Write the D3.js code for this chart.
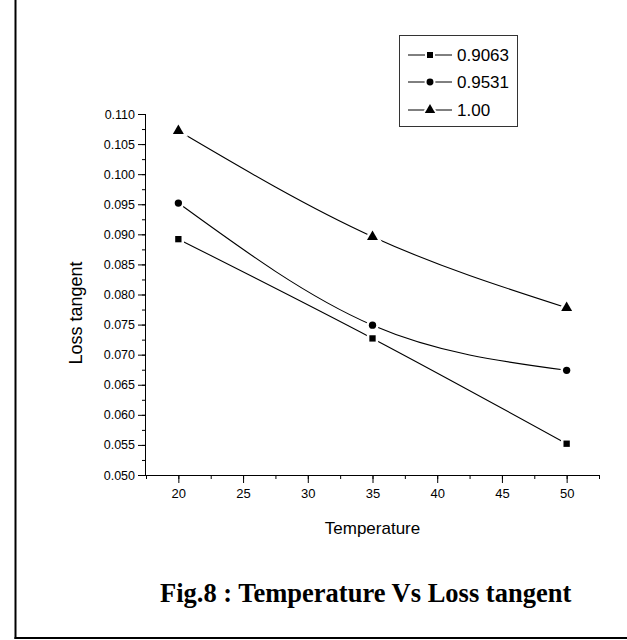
<!DOCTYPE html>
<html><head><meta charset="utf-8">
<script src="https://cdn.jsdelivr.net/npm/d3@7"></script>
<style>body{margin:0;background:#fff}svg{display:block}</style>
</head><body>
<svg id="c" width="627" height="640"></svg>
<script>
const temperatures = [20, 35, 50];
const seriesNames = ["0.9063", "0.9531", "1.00"];
const series_09063 = [0.0892, 0.0727, 0.0552];
const series_09531 = [0.0952, 0.0749, 0.0674];
const series_100 = [0.1072, 0.0896, 0.0778];
const xTicks = [20, 25, 30, 35, 40, 45, 50];
const yTicks = [0.050,0.055,0.060,0.065,0.070,0.075,0.080,0.085,0.090,0.095,0.100,0.105,0.110];

const allSeries = [series_09063, series_09531, series_100];
const symbols = [d3.symbolSquare, d3.symbolCircle, d3.symbolTriangle];
const symSizes = [40, 42, 52];

const svg = d3.select("#c");
const x = d3.scaleLinear().domain([17.5, 52.5]).range([146, 599]);
const y = d3.scaleLinear().domain([0.050, 0.110]).range([475, 114]);

// frame
svg.append("line").attr("x1",15.5).attr("x2",15.5).attr("y1",0).attr("y2",639).attr("stroke","#000").attr("stroke-width",2);
svg.append("line").attr("x1",14.5).attr("x2",627).attr("y1",638).attr("y2",638).attr("stroke","#000").attr("stroke-width",2);

const font = "Liberation Sans, Arial, sans-serif";

// x axis
const gx = svg.append("g").attr("transform","translate(0,475)");
gx.call(d3.axisBottom(x).tickValues(d3.range(17.5, 52.6, 2.5)).tickSize(4).tickFormat(""));
gx.call(g=>g.select(".domain").remove());
const gx2 = svg.append("g").attr("transform","translate(0,475)");
gx2.call(d3.axisBottom(x).tickValues(xTicks).tickSize(8).tickPadding(6).tickFormat(d3.format("d")));
gx2.selectAll("text").attr("font-family",font).attr("font-size",13).attr("fill","#000");
gx2.select(".domain").attr("d",`M${x(17.5)},0.5H${x(52.5)}`);

// y axis
const gy = svg.append("g").attr("transform","translate(146,0)");
gy.call(d3.axisLeft(y).tickValues(d3.range(0.050, 0.1101, 0.0025)).tickSize(4).tickFormat(""));
gy.call(g=>g.select(".domain").remove());
const gy2 = svg.append("g").attr("transform","translate(146,0)");
gy2.call(d3.axisLeft(y).tickValues(yTicks).tickSize(8).tickPadding(3).tickFormat(d3.format(".3f")));
gy2.selectAll("text").attr("font-family",font).attr("font-size",12.5).attr("fill","#000");
gy2.select(".domain").attr("d",`M-0.5,${y(0.110)}V${y(0.050)}`);
svg.selectAll(".tick line").attr("stroke","#000");

// titles
svg.append("text").attr("x",x(35)).attr("y",534).attr("text-anchor","middle")
  .attr("font-family",font).attr("font-size",17).text("Temperature");
svg.append("text").attr("transform",`translate(82,313) rotate(-90)`).attr("text-anchor","middle")
  .attr("font-family",font).attr("font-size",18).text("Loss tangent");
svg.append("text").attr("x",160).attr("y",602).attr("font-family","Liberation Serif, Times New Roman, serif")
  .attr("font-weight","bold").attr("font-size",26.5).text("Fig.8 : Temperature Vs Loss tangent");

// curves
const line = d3.line().x((d,i)=>x(temperatures[i])).y(d=>y(d)).curve(d3.curveNatural);
allSeries.forEach((s,k)=>{
  svg.append("path").attr("d",line(s)).attr("fill","none").attr("stroke","#000").attr("stroke-width",1.1);
});
allSeries.forEach((s,k)=>{
  svg.selectAll(null).data(s).enter().append("path")
    .attr("transform",(d,i)=>`translate(${x(temperatures[i])},${y(d)})`)
    .attr("d",d3.symbol().type(symbols[k]).size(symSizes[k]))
    .attr("fill","#000").attr("stroke","#fff").attr("stroke-width",5).attr("paint-order","stroke");
});

// legend
svg.append("rect").attr("x",399.5).attr("y",35.5).attr("width",118).attr("height",91)
  .attr("fill","#fff").attr("stroke","#333").attr("stroke-width",1);
const rowsY = [55, 82, 110];
seriesNames.forEach((n,k)=>{
  const ly = rowsY[k];
  svg.append("line").attr("x1",408).attr("x2",452).attr("y1",ly).attr("y2",ly).attr("stroke","#000").attr("stroke-width",1);
  svg.append("path").attr("transform",`translate(430,${ly})`)
    .attr("d",d3.symbol().type(symbols[k]).size(symSizes[k]*0.9))
    .attr("fill","#000").attr("stroke","#fff").attr("stroke-width",4).attr("paint-order","stroke");
  svg.append("text").attr("x",457).attr("y",ly+6).attr("font-family",font).attr("font-size",17).text(n);
});
</script>
</body></html>
